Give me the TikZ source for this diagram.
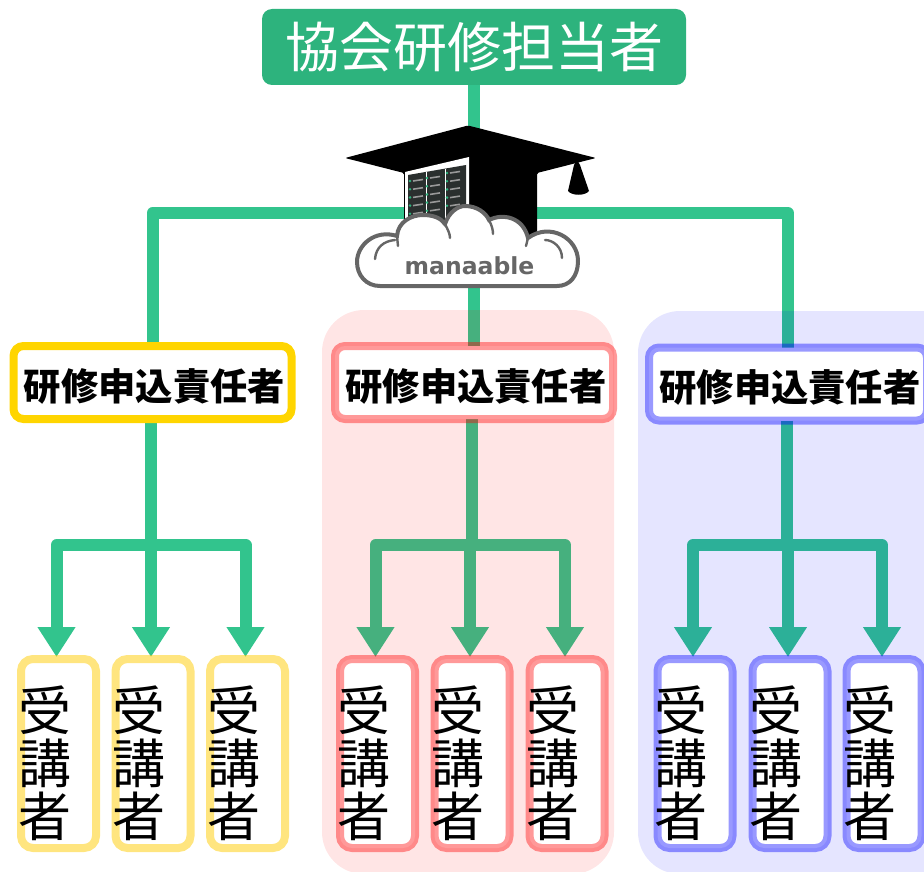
\documentclass[tikz,border=0pt]{standalone}
\usepackage{fontspec}
\newfontfamily\cjk{Noto Sans CJK JP}
\usetikzlibrary{arrows.meta}
\definecolor{wirec}{HTML}{32C48D}
\definecolor{headc}{HTML}{2DB37D}
\definecolor{bossy}{HTML}{FFD500}
\definecolor{stuy}{HTML}{FFCC00}
\definecolor{logog}{HTML}{666666}
\definecolor{rackc}{HTML}{2A2F2E}
\definecolor{dotc}{HTML}{2DB37D}
\pgfdeclarelayer{wires}
\pgfdeclarelayer{panels}
\pgfsetlayers{wires,panels,main}
\newcommand{\bosslabel}{\kern4pt 研修申込責任者}
\tikzset{
	wire/.style={draw=wirec, line width=12pt, line join=round},
	lead/.style={wire, -{Triangle[width=36pt,length=30pt]}},
	panel/.style={fill=#1, fill opacity=0.1, rounded corners=42pt},
	boss/.style={draw=#1, fill=white, line width=8pt, rounded corners=10pt, outer sep=0pt,
		minimum width=278pt, minimum height=73pt, inner sep=0pt, text height=35pt, text depth=0pt,
		font=\cjk\fontsize{37.3}{37.3}\selectfont\bfseries},
	stu/.style={draw=#1, fill=white, line width=8pt, rounded corners=12pt, outer sep=0pt,
		minimum width=75pt, minimum height=189pt, inner sep=0pt},
	stutext/.style={inner sep=0pt, align=center, font=\cjk\fontsize{53}{53}\selectfont}
}
\begin{document}
\begin{tikzpicture}[x=1pt, y=-1pt]
	\useasboundingbox (0, 0) rectangle (924, 872);
	\clip (0, 0) rectangle (924, 872);

	% top
	\node[fill=headc, rounded corners=10pt, minimum width=424pt, minimum height=76pt, inner sep=0pt,
		text=white, font=\cjk\fontsize{54}{54}\selectfont] (head) at (474, 47) {協会研修担当者};

	% managers
	\node[boss=bossy] (boss1) at (152.5, 382.5) {\bosslabel};
	\node[boss=red, draw opacity=0.4] (boss2) at (474, 382.5) {\bosslabel};
	\node[boss=blue, draw opacity=0.4] (boss3) at (788, 384) {\bosslabel};

	% students
	\foreach \g/\c/\o/\xa/\xb/\xc in {1/stuy/0.5/58.5/153/247.5, 2/red/0.4/377.5/472/567, 3/blue/0.4/695/790/884} {
		\foreach \i/\x in {1/\xa, 2/\xb, 3/\xc} {
			\node[stu=\c, draw opacity=\o] (s\g\i) at (\x, 753.5) {};
			\node[stutext] (t\g\i) at ([xshift=-14pt, yshift=-10pt]s\g\i.center) {受\\講\\者};
		}
	}

	\coordinate (split) at (474, 213);
	\coordinate (hub1) at (151, 545);
	\coordinate (hub2) at (472, 545);
	\coordinate (hub3) at (787, 545);

	% connectors
	\begin{pgfonlayer}{wires}
		\draw[wire] (head.south) -- (boss2.north);
		\draw[wire] (split) -| (boss1.north);
		\draw[wire] (split) -| (boss3.north);
		\foreach \g in {1, 2, 3} {
			\draw[wire] (boss\g.south -| hub\g) -- (hub\g);
			\draw[lead] ([xshift=-2pt]s\g2.north |- hub\g) -- ([xshift=-2pt, yshift=2pt]s\g2.north);
			\draw[lead] (hub\g) -| ([xshift=-2pt, yshift=2pt]s\g1.north);
			\draw[lead] (hub\g) -| ([xshift=-2pt, yshift=2pt]s\g3.north);
		}
	\end{pgfonlayer}

	% backgrounds
	\begin{pgfonlayer}{panels}
		\fill[panel=red] (322, 310) rectangle (614, 874);
		\fill[panel=blue] (638, 311) rectangle (980, 874);
	\end{pgfonlayer}

	% cap
	\fill[black, rounded corners=1.5pt] (468, 125.5) -- (596, 158) -- (537, 173) -- (537, 240) -- (404, 240) -- (404, 173) -- (345, 158) -- cycle;
	\fill[black] (577, 160) -- (580, 165) -- (589, 191) .. controls (585, 196) and (572, 196) .. (568, 191) -- (574, 165) -- cycle;

	% rack
	\fill[white] (405, 172) -- (469, 157) -- (469, 225) -- (405, 225) -- cycle;
	\fill[rackc] (408, 175) -- (466, 165) -- (466, 225) -- (408, 225) -- cycle;
	\draw[white, line width=1.5pt] (426.5, 172) -- (426.5, 225) (445.5, 169) -- (445.5, 225);
	\foreach \x/\y in {410/181, 427/178, 447/173} {
		\foreach \r in {0, 1, 2, 3, 4} {
			\fill[dotc] (\x, \y + 8.2*\r) circle[radius=1.4pt];
			\draw[gray!80, line width=1.6pt] (\x + 3, \y + 8.2*\r) -- ++(10, -1.5);
		}
	}

	% cloud
	\draw[logog, fill=white, line width=4pt] (380, 286) .. controls (366, 286) and (357, 275) .. (357, 262)
		.. controls (357, 245) and (375, 229) .. (397, 236)
		.. controls (398, 222) and (411, 215) .. (423, 215)
		.. controls (433, 215) and (441, 218) .. (445, 224)
		.. controls (449, 212) and (458, 206) .. (465, 206)
		.. controls (477, 206) and (486, 213) .. (489, 220)
		.. controls (503, 213) and (523, 217) .. (528, 238)
		.. controls (550, 222) and (578, 238) .. (578, 261)
		.. controls (578, 276) and (570, 286) .. (557, 286) -- cycle;
	\draw[logog, line width=2.4pt, line cap=round] (375, 259) .. controls (376, 247) and (384, 241) .. (395, 240);
	\draw[logog, line width=2.4pt, line cap=round] (562, 258) .. controls (562, 247) and (553, 240) .. (545, 240);
	\draw[logog, line width=2.4pt, line cap=round] (397, 236) -- (398, 246);
	\draw[logog, line width=2.4pt, line cap=round] (445, 224) .. controls (448, 230) and (450, 234) .. (450, 238);
	\draw[logog, line width=2.4pt, line cap=round] (489, 220) .. controls (492, 226) and (493, 230) .. (493, 234);
	\draw[logog, line width=2.4pt, line cap=round] (528, 238) -- (526, 246);
	\node[inner sep=0pt, text=logog, font=\fontspec{DejaVu Sans}\fontsize{23.5}{23.5}\selectfont\bfseries] (logo) at (469.5, 266) {manaable};
\end{tikzpicture}
\end{document}
